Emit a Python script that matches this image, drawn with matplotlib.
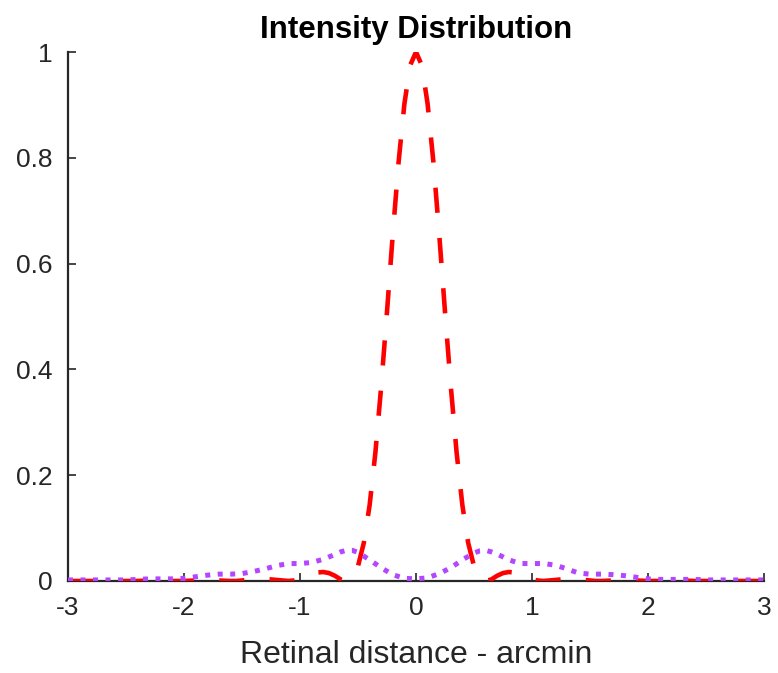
import matplotlib
matplotlib.use("Agg")
import matplotlib.pyplot as plt

# ---- data ----
red_x = [-3.0, -2.9, -2.8, -2.7, -2.6, -2.5, -2.4, -2.3, -2.2, -2.1, -2.0, -1.9, -1.8, -1.7,
         -1.6, -1.55, -1.5, -1.45, -1.4, -1.35, -1.3, -1.25, -1.2, -1.15, -1.1, -1.05,
         -1.0, -0.95, -0.9, -0.85, -0.8, -0.75, -0.7, -0.65, -0.6, -0.55, -0.5, -0.45,
         -0.4, -0.35, -0.3, -0.25, -0.2, -0.15, -0.1, -0.05, 0.0, 0.05, 0.1, 0.15, 0.2,
         0.25, 0.3, 0.35, 0.4, 0.45, 0.5, 0.55, 0.6, 0.65, 0.7, 0.75, 0.8, 0.85, 0.9,
         0.95, 1.0, 1.05, 1.1, 1.15, 1.2, 1.25, 1.3, 1.35, 1.4, 1.45, 1.5, 1.55, 1.6,
         1.7, 1.8, 1.9, 2.0, 2.1, 2.2, 2.3, 2.4, 2.5, 2.6, 2.7, 2.8, 2.9, 3.0]
red_y = [0.000, 0.000, 0.000, 0.000, 0.000, 0.000, 0.000, 0.001, 0.001, 0.000, 0.000, 0.001, 0.001, 0.001,
         0.000, 0.000, 0.001, 0.002, 0.003, 0.004, 0.004, 0.003, 0.002, 0.001, 0.000, 0.001,
         0.003, 0.007, 0.012, 0.016, 0.017, 0.015, 0.010, 0.003, 0.000, 0.006, 0.028, 0.072,
         0.143, 0.243, 0.368, 0.509, 0.656, 0.792, 0.902, 0.975, 1.000, 0.975, 0.902, 0.792, 0.656,
         0.509, 0.368, 0.243, 0.143, 0.072, 0.028, 0.006, 0.000, 0.003, 0.010, 0.015, 0.017, 0.016, 0.012,
         0.007, 0.003, 0.001, 0.000, 0.001, 0.002, 0.003, 0.004, 0.004, 0.003, 0.002, 0.001, 0.000, 0.000,
         0.001, 0.001, 0.001, 0.000, 0.000, 0.001, 0.001, 0.000, 0.000, 0.000, 0.000, 0.000, 0.000, 0.000]

purple_x = [-3.0, -2.9, -2.8, -2.7, -2.6, -2.5, -2.4, -2.3, -2.2, -2.1, -2.0, -1.9, -1.8, -1.7,
            -1.6, -1.5, -1.4, -1.3, -1.2, -1.1, -1.0, -0.9, -0.8, -0.7, -0.65, -0.6, -0.55,
            -0.5, -0.4, -0.3, -0.2, -0.1, 0.0, 0.1, 0.2, 0.3, 0.4, 0.5, 0.55, 0.6, 0.65, 0.7,
            0.8, 0.9, 1.0, 1.1, 1.2, 1.3, 1.4, 1.5, 1.6, 1.7, 1.8, 1.9, 2.0, 2.1, 2.2, 2.3,
            2.4, 2.5, 2.6, 2.7, 2.8, 2.9, 3.0]
purple_y = [0.002, 0.002, 0.002, 0.002, 0.002, 0.002, 0.003, 0.004, 0.004, 0.004, 0.005, 0.008, 0.011, 0.013,
            0.013, 0.014, 0.018, 0.023, 0.029, 0.033, 0.033, 0.035, 0.041, 0.050, 0.055, 0.058, 0.058,
            0.054, 0.040, 0.025, 0.012, 0.005, 0.004, 0.006, 0.014, 0.025, 0.040, 0.053, 0.057, 0.058, 0.055, 0.051,
            0.040, 0.033, 0.033, 0.033, 0.030, 0.023, 0.015, 0.013, 0.013, 0.012, 0.010, 0.007, 0.004, 0.003, 0.003, 0.003,
            0.003, 0.002, 0.002, 0.002, 0.002, 0.002, 0.002]

x_ticks = [-3, -2, -1, 0, 1, 2, 3]
y_ticks = [0, 0.2, 0.4, 0.6, 0.8, 1]
y_ticklabels = ["0", "0.2", "0.4", "0.6", "0.8", "1"]
title = "Intensity Distribution"
xlabel = "Retinal distance - arcmin"

plt.rcParams['font.family'] = ['Liberation Sans', 'DejaVu Sans']
fig = plt.figure(figsize=(7.78, 6.73), dpi=100)
ax = fig.add_axes([68 / 778, 92 / 673, 696 / 778, 529 / 673])

ax.plot(red_x, red_y, color='#FF0000', lw=3.3, linestyle=(0, (5.5, 5.5)),
        dash_capstyle='butt', zorder=3)
ax.plot(purple_x, purple_y, color='#B446FF', lw=3.6, linestyle=(0, (1.0, 1.5)),
        dash_capstyle='butt', zorder=4)

ax.set_xlim(-3, 3)
ax.set_ylim(0, 1)
ax.set_xticks(x_ticks)
ax.set_xticklabels([str(t) if t >= 0 else '-' + str(-t) for t in x_ticks])
ax.set_yticks(y_ticks)
ax.set_yticklabels(y_ticklabels)

dark = '#262626'
for s in ['top', 'right']:
    ax.spines[s].set_visible(False)
for s in ['left', 'bottom']:
    ax.spines[s].set_color(dark)
    ax.spines[s].set_linewidth(1.6)
ax.tick_params(direction='in', length=5.5, width=1.2, colors=dark, labelsize=19)
ax.tick_params(axis='x', pad=11)
ax.tick_params(axis='y', pad=11)

ax.set_title(title, fontsize=22.5, fontweight='bold', color='black', pad=10)
ax.set_xlabel(xlabel, fontsize=23, color=dark, labelpad=14)

fig.savefig('out.png', dpi=100)
